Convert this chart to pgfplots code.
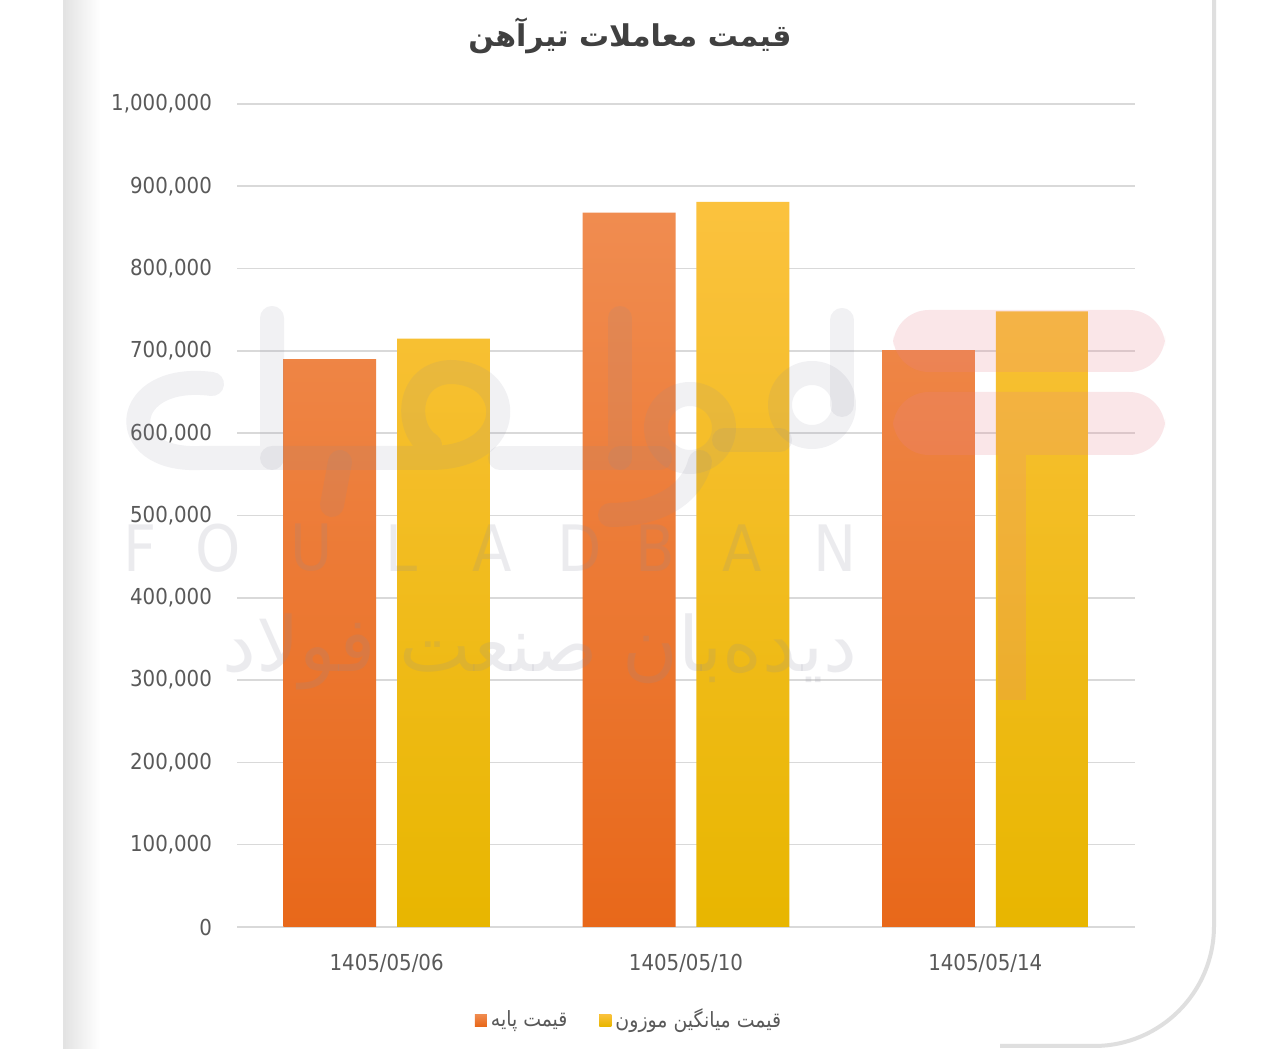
\documentclass[border=0pt]{standalone}
\usepackage{pgfplots}
\pgfplotsset{compat=1.18}
\usepackage{fontspec}
\setmainfont{DejaVu Sans Condensed}
\newfontfamily\arabicfont[Script=Arabic]{DejaVu Sans}
\newfontfamily\arabicfontc[Script=Arabic]{DejaVu Sans Condensed}
\TeXXeTstate=1
\definecolor{orT}{HTML}{F08C50}
\definecolor{orB}{HTML}{E8681A}
\definecolor{orL}{HTML}{EE7A30}
\definecolor{yeT}{HTML}{FBC23E}
\definecolor{yeB}{HTML}{E8B600}
\definecolor{yeL}{HTML}{F6C000}
\definecolor{tick}{HTML}{595959}
\definecolor{gridc}{HTML}{D9D9D9}
\definecolor{wmg}{HTML}{8C8CA0}
\definecolor{wmp}{HTML}{E88290}
\begin{document}
\begin{tikzpicture}
\useasboundingbox (0,0) rectangle (640pt,524.5pt);
\begin{scope}[x=0.5pt,y=-0.5pt,yshift=524.5pt]
  \fill[white] (0,0) rectangle (1280,1049);
  \shade[left color=gray!22, right color=white] (64,0) rectangle (100,1049);
  \draw[gray!22, line width=1.5, rounded corners=55] (64,-120) -- (64,1060);
  \draw[gray!25, line width=2, rounded corners=60] (1000,1046) -- (1214,1046) -- (1214,-120);
  % title
  \node[text=black!75, font=\arabicfont\bfseries\fontsize{15}{18}\selectfont] at (630,36) {\beginR قیمت معاملات تیرآهن\endR};
\end{scope}
\begin{axis}[
  at={(118.5pt,61pt)}, anchor=south west,
  scale only axis, width=449pt, height=411.5pt,
  xmin=-0.5, xmax=2.5, ymin=0, ymax=1000000,
  xtick={0,1,2},
  xticklabels={1405/05/06,1405/05/10,1405/05/14},
  ytick={0,100000,...,1000000},
  scaled y ticks=false,
  /pgf/number format/.cd, fixed, 1000 sep={,}, assume math mode=true,
  /pgfplots/.cd,
  axis line style={draw=none},
  major tick style={draw=none},
  ymajorgrids,
  major grid style={gridc, line width=0.8pt},
  tick label style={text=tick, font=\fontsize{11}{13}\selectfont},
  yticklabel style={xshift=-9pt},
  xticklabel style={yshift=-10pt},
  legend columns=2,
  legend style={at={(0.4376,-0.113)}, anchor=center, draw=none, fill=none,
    font=\arabicfontc\fontsize{10.5}{12}\selectfont, text=tick,
    /tikz/every even column/.append style={column sep=14pt}},
]
\addplot[ybar, bar width=0.31, bar shift=-0.19, draw=none, top color=orT, bottom color=orB,
  legend image code/.code={\fill[orL] (0pt,-3pt) rectangle (6pt,3pt);}]
  coordinates {(0,690000) (1,868000) (2,701000)};
\addlegendentry{\beginR قیمت پایه\endR}
\addplot[ybar, bar width=0.31, bar shift=0.19, draw=none, top color=yeT, bottom color=yeB,
  legend image code/.code={\fill[yeL] (0pt,-3pt) rectangle (6pt,3pt);}]
  coordinates {(0,715000) (1,881000) (2,748000)};
\addlegendentry{\beginR قیمت میانگین موزون\endR}
\end{axis}
\begin{scope}[x=0.5pt,y=-0.5pt,yshift=524.5pt]
  % watermark, drawn over the bars as in the reference
  \begin{scope}[opacity=0.2]
    \fill[wmp, rounded corners=18] (893,310) rectangle (1165,372);
    \fill[wmp, rounded corners=18] (893,392) rectangle (1165,455);
    \fill[wmp] (998,455) rectangle (1026,700);
  \end{scope}
  \begin{scope}[opacity=0.12, draw=wmg, line width=12pt, line cap=round, line join=round]
    \draw (212,384) .. controls (120,372) and (112,462) .. (200,458) -- (272,458) -- (272,318);
    \draw (340,462) -- (332,505);
    \draw (272,458) -- (430,458) .. controls (520,458) and (515,372) .. (450,372) .. controls (405,374) and (405,430) .. (430,445);
    \draw (500,458) -- (620,458) -- (620,318);
    \draw (620,458) -- (660,458);
    \draw (690,428) circle (34);
    \draw (700,462) .. controls (690,500) and (650,515) .. (610,515);
    \draw (724,440) -- (780,440);
    \draw (812,405) circle (32);
    \draw (842,405) -- (842,320);
  \end{scope}
  \begin{scope}[opacity=0.17]
    \foreach \xx/\ll in {140/F,218/O,312/U,402/L,492/A,580/D,655/B,742/A,835/N}
      \node[text=wmg, inner sep=0pt, font=\fontsize{32}{34}\selectfont] at (\xx,548) {\ll};
    \node[text=wmg, font=\arabicfont\fontsize{38}{42}\selectfont] at (540,652) {\beginR دیده‌بان صنعت فولاد\endR};
  \end{scope}
\end{scope}
\end{tikzpicture}
\end{document}
